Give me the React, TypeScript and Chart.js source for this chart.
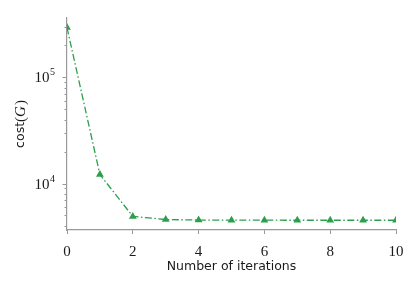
import React, { useEffect, useRef } from 'react';
import { Chart, registerables } from 'chart.js';
Chart.register(...registerables);

const iterations = [0, 1, 2, 3, 4, 5, 6, 7, 8, 9, 10];
const costs = [294000, 12150, 4900, 4580, 4530, 4520, 4515, 4510, 4510, 4510, 4510];
const xTicks = [0, 2, 4, 6, 8, 10];
const yMajorTicks = [10000, 100000];
const yMajorExponents = ['4', '5'];
const yMinorTicks = [4000, 5000, 6000, 7000, 8000, 9000, 20000, 30000, 40000, 50000, 60000, 70000, 80000, 90000, 200000, 300000];
const yRange = [3650, 362000];
const xLabel = 'Number of iterations';

const GREEN = '#2c9f4d';
const SPINE = '#999999';
const TEXT = '#1a1a1a';

export default function App() {
  const ref = useRef<HTMLCanvasElement>(null);
  useEffect(() => {
    const canvas = ref.current!;
    const decor = {
      id: 'decor',
      afterDraw(chart: any) {
        const ctx = chart.ctx as CanvasRenderingContext2D;
        const ys = chart.scales.y;
        const xs = chart.scales.x;
        const area = chart.chartArea;
        ctx.save();
        ctx.strokeStyle = SPINE;
        ctx.lineWidth = 1;
        yMinorTicks.forEach((v) => {
          const py = Math.round(ys.getPixelForValue(v)) + 0.5;
          ctx.beginPath();
          ctx.moveTo(area.left - 2.5, py);
          ctx.lineTo(area.left, py);
          ctx.stroke();
        });
        yMajorTicks.forEach((v, i) => {
          const py = Math.round(ys.getPixelForValue(v)) + 0.5;
          ctx.beginPath();
          ctx.moveTo(area.left - 4.5, py);
          ctx.lineTo(area.left, py);
          ctx.stroke();
          const exp = yMajorExponents[i];
          ctx.fillStyle = TEXT;
          ctx.textBaseline = 'middle';
          ctx.font = '10px "Liberation Serif"';
          const ew = ctx.measureText(exp).width;
          const rightEdge = area.left - 12;
          ctx.textAlign = 'left';
          ctx.fillText(exp, rightEdge - ew, py - 5);
          ctx.font = '15px "Liberation Serif"';
          ctx.textAlign = 'right';
          ctx.fillText('10', rightEdge - ew - 0.5, py + 0.5);
        });
        // x axis title
        ctx.fillStyle = TEXT;
        ctx.font = '12.5px "DejaVu Sans"';
        ctx.textAlign = 'center';
        ctx.textBaseline = 'middle';
        ctx.fillText(xLabel, (xs.left + xs.right) / 2, 267);
        // y axis title: cost(G)
        ctx.translate(21, 124);
        ctx.rotate(-Math.PI / 2);
        const p1 = 'cost';
        const p2 = '(';
        const p3 = 'G';
        const p4 = ')';
        const fSans = '12.5px "DejaVu Sans"';
        const fSerif = '15px "Liberation Serif"';
        const fIt = 'italic 15px "Liberation Serif"';
        ctx.font = fSans; const w1 = ctx.measureText(p1).width;
        ctx.font = fSerif; const w2 = ctx.measureText(p2).width; const w4 = ctx.measureText(p4).width;
        ctx.font = fIt; const w3 = ctx.measureText(p3).width;
        let x0 = -(w1 + w2 + w3 + w4 + 1) / 2;
        ctx.textAlign = 'left';
        ctx.font = fSans; ctx.fillText(p1, x0, 0); x0 += w1;
        ctx.font = fSerif; ctx.fillText(p2, x0, 0); x0 += w2;
        ctx.font = fIt; ctx.fillText(p3, x0, 0); x0 += w3 + 1;
        ctx.font = fSerif; ctx.fillText(p4, x0, 0);
        ctx.restore();
      },
    };
    const chart = new Chart(canvas, {
      type: 'line',
      data: {
        datasets: [
          {
            data: iterations.map((x, i) => ({ x, y: costs[i] })),
            borderColor: GREEN,
            backgroundColor: GREEN,
            borderWidth: 1.3,
            borderDash: [7, 2.5, 1.5, 2.5],
            pointStyle: 'triangle',
            pointRadius: 4.5,
            pointBorderWidth: 0,
            pointBackgroundColor: GREEN,
            tension: 0,
            fill: false,
          },
        ],
      },
      options: {
        animation: false,
        responsive: false,
        maintainAspectRatio: false,
        layout: { padding: { left: 0, top: 18, right: 19, bottom: 0 } },
        plugins: { legend: { display: false }, tooltip: { enabled: false }, title: { display: false } },
        scales: {
          x: {
            type: 'linear',
            min: 0,
            max: 10,
            afterBuildTicks: (s: any) => {
              s.ticks = xTicks.map((v) => ({ value: v }));
            },
            afterFit: (s: any) => {
              s.height = 57;
            },
            ticks: {
              font: { family: 'Liberation Serif', size: 15 },
              color: TEXT,
              padding: 9,
              maxRotation: 0,
              autoSkip: false,
            },
            grid: { drawOnChartArea: false, drawTicks: true, tickLength: 4, color: SPINE, lineWidth: 1 },
            border: { display: true, color: SPINE, width: 1.2 },
          },
          y: {
            type: 'logarithmic',
            min: yRange[0],
            max: yRange[1],
            afterFit: (s: any) => {
              s.width = 67;
            },
            ticks: { display: false },
            grid: { display: false },
            border: { display: true, color: SPINE, width: 1.2 },
          },
        },
      },
      plugins: [decor],
    });
    return () => chart.destroy();
  }, []);
  return (
    <div style={{ position: 'fixed', left: 0, top: 0, width: 415, height: 287, background: '#fff' }}>
      <canvas ref={ref} width={415} height={287} style={{ width: 415, height: 287, display: 'block' }} />
    </div>
  );
}
